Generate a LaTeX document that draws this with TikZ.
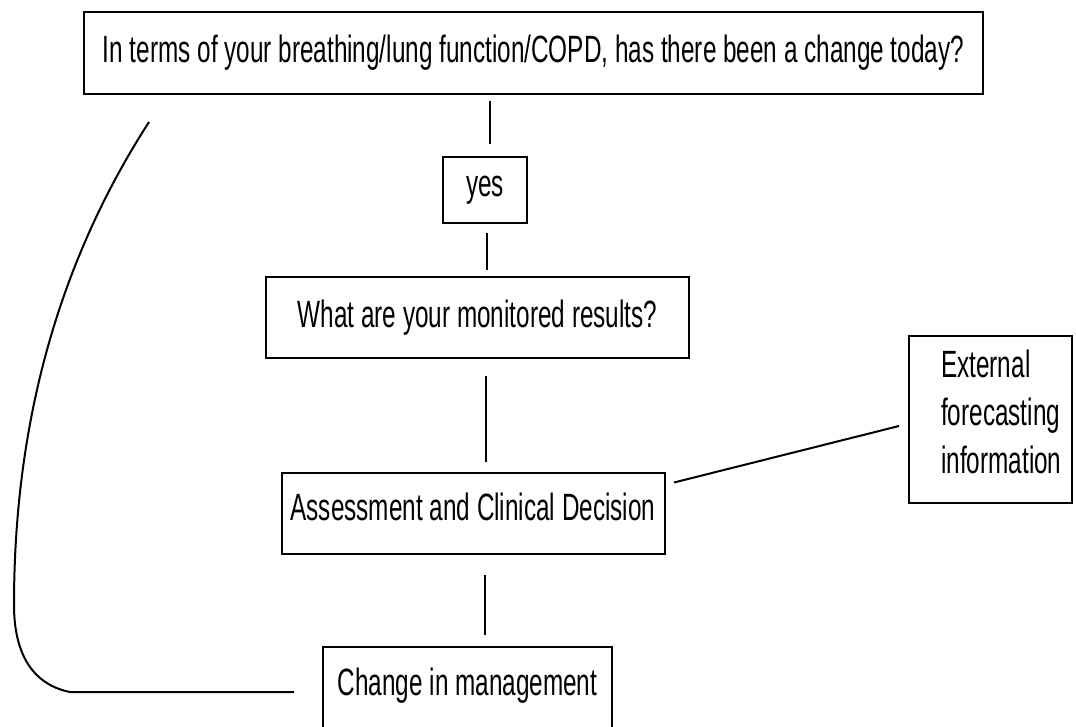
\documentclass[tikz,border=0pt]{standalone}
\usepackage{fontspec}
\setmainfont{Liberation Sans}[FakeStretch=0.64]
\usepackage{tikz}
\usetikzlibrary{positioning}
\usetikzlibrary{calc}

\tikzset{
    flowbox/.style={draw, line width=2pt, inner sep=0pt, font=\fontsize{38}{48}\selectfont},
    link/.style={line width=2pt}
}

\begin{document}
\begin{tikzpicture}[x=1pt, y=-1pt]
        \useasboundingbox (0,0) rectangle (1076,726);
        % Draw the boxes
        \node[flowbox, minimum width=899pt, minimum height=82pt] (question) at (533.5,53) {In terms of your breathing/lung function/COPD, has there been a change today?};
        \node[flowbox, minimum width=84pt, minimum height=66pt] (yes) at (485,190) {yes};
        \node[flowbox, minimum width=423pt, minimum height=81pt] (results) at (477.5,317.5) {What are your monitored results?};
        \node[flowbox, minimum width=383pt, minimum height=81pt, text depth=14pt] (assess) at (473,513.5) {Assessment and Clinical Decision};
        \node[flowbox, minimum width=163pt, minimum height=167pt] (external) at (990.5,419) {};
        \node[anchor=west, align=left, inner sep=0pt, font=\fontsize{38}{48}\selectfont] (exttext) at ([xshift=33pt, yshift=7pt]external.west) {External\\forecasting\\information};
        \node[flowbox, minimum width=289pt, minimum height=90pt, text depth=20pt] (change) at (467.5,692) {Change in management};
        % Draw the links between the boxes
        \draw[link, shorten <=6pt, shorten >=12pt] ([xshift=5pt]question.south -| yes.north) -- ([xshift=5pt]yes.north);
        \draw[link, shorten <=9pt, shorten >=6pt] ([xshift=2pt]yes.south) -- ([xshift=2pt]yes.south |- results.north);
        \draw[link, shorten <=17pt, shorten >=10pt] ([xshift=8.5pt]results.south) -- ([xshift=8.5pt]results.south |- assess.north);
        \draw[link, shorten <=19.5pt, shorten >=11pt] ([xshift=12pt]assess.south) -- ([xshift=12pt]assess.south |- change.north);
        \draw[link] ([xshift=8.5pt, yshift=-10.5pt]assess.north east) -- ([xshift=-9pt, yshift=-7pt]external.west);
        % Draw the loop back up to the question
        \coordinate (corner) at (14,605);
        \coordinate (loopend) at (149,122);
        \draw[link] ([xshift=-28pt]change.west) -- (70,692) .. controls (30,684) and (14,650) .. (corner)
            .. controls (14,420) and (60,260) .. (loopend);
    \end{tikzpicture}
\end{document}
